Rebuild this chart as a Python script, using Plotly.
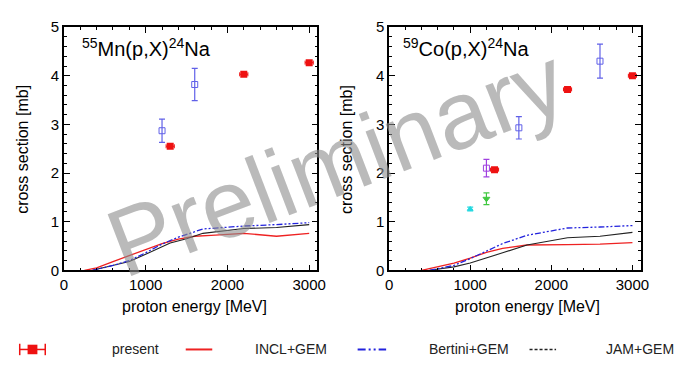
import plotly.graph_objects as go

# ---------------- data ----------------
# Mn panel
mn_present_x = [1300, 2200, 3000]
mn_present_y = [2.55, 4.03, 4.27]
mn_present_ex = [50, 50, 50]
mn_exp_x = [1200, 1600]
mn_exp_y = [2.87, 3.82]
mn_exp_err = [0.24, 0.33]

mn_incl_x = [250, 400, 600, 800, 1000, 1200, 1400, 1600, 1800, 2200, 2600, 3000]
mn_incl_y = [0.0, 0.05, 0.18, 0.30, 0.42, 0.55, 0.64, 0.70, 0.72, 0.76, 0.70, 0.76]
mn_bert_x = [350, 400, 600, 800, 1000, 1200, 1400, 1700, 2200, 2600, 3000]
mn_bert_y = [0.0, 0.02, 0.10, 0.20, 0.36, 0.54, 0.68, 0.85, 0.91, 0.94, 0.98]
mn_jam_x = [350, 400, 600, 800, 1000, 1200, 1300, 1500, 1700, 2200, 2600, 3000]
mn_jam_y = [0.0, 0.02, 0.09, 0.18, 0.33, 0.49, 0.56, 0.65, 0.76, 0.86, 0.88, 0.94]

# Co panel
co_present_x = [1300, 2200, 3000]
co_present_y = [2.07, 3.72, 4.00]
co_present_ex = [50, 50, 50]
co_exp_x = [1600, 2600]
co_exp_y = [2.93, 4.30]
co_exp_err = [0.23, 0.35]
co_purple_x = [1200]
co_purple_y = [2.10]
co_purple_err = [0.18]
co_green_x = [1200]
co_green_y = [1.47]
co_green_err = [0.12]
co_cyan_x = [1000]
co_cyan_y = [1.26]
co_cyan_err = [0.04]

co_incl_x = [400, 600, 800, 1000, 1200, 1400, 1700, 2200, 2600, 3000]
co_incl_y = [0.0, 0.07, 0.15, 0.25, 0.37, 0.45, 0.52, 0.53, 0.54, 0.57]
co_bert_x = [500, 600, 800, 1000, 1200, 1400, 1700, 2200, 2600, 3000]
co_bert_y = [0.0, 0.03, 0.10, 0.24, 0.40, 0.55, 0.72, 0.87, 0.89, 0.92]
co_jam_x = [500, 600, 800, 1000, 1200, 1400, 1700, 2200, 2600, 3000]
co_jam_y = [0.0, 0.02, 0.07, 0.15, 0.25, 0.36, 0.52, 0.67, 0.70, 0.78]

x_ticks = [0, 1000, 2000, 3000]
y_ticks = [0, 1, 2, 3, 4, 5]

legend_labels = ["present", "INCL+GEM", "Bertini+GEM", "JAM+GEM"]

RED = "#ee1111"
BLUE_EXP = "#6060e8"
INCL_C = "#ee2222"
BERT_C = "#2222dd"
JAM_C = "#222222"

W, H = 679, 367


def PX(px):
    return px / W


def PY(py):
    return 1 - py / H


fig = go.Figure()


def add_panel(xa, ya, pres_x, pres_y, pres_ex, incl, bert, jam):
    fig.add_trace(go.Scatter(x=incl[0], y=incl[1], mode="lines", xaxis=xa, yaxis=ya,
                             line=dict(color=INCL_C, width=1.3), showlegend=False))
    fig.add_trace(go.Scatter(x=jam[0], y=jam[1], mode="lines", xaxis=xa, yaxis=ya,
                             line=dict(color=JAM_C, width=1.1), showlegend=False))
    fig.add_trace(go.Scatter(x=bert[0], y=bert[1], mode="lines", xaxis=xa, yaxis=ya,
                             line=dict(color=BERT_C, width=1.3, dash="6px,2px,2px,2px,2px,2px"),
                             showlegend=False))
    fig.add_trace(go.Scatter(x=pres_x, y=pres_y, mode="markers", xaxis=xa, yaxis=ya,
                             marker=dict(symbol="square", size=7, color=RED),
                             error_x=dict(type="data", array=pres_ex, color=RED, thickness=1, width=2),
                             showlegend=False))


def add_exp(xa, ya, x, y, err, color, symbol, size=6):
    fig.add_trace(go.Scatter(x=x, y=y, mode="markers", xaxis=xa, yaxis=ya,
                             marker=dict(symbol=symbol, size=size, color=color,
                                         line=dict(color=color, width=1)),
                             error_y=dict(type="data", array=err, color=color, thickness=1.2, width=3),
                             showlegend=False))


add_panel("x", "y", mn_present_x, mn_present_y, mn_present_ex,
          (mn_incl_x, mn_incl_y), (mn_bert_x, mn_bert_y), (mn_jam_x, mn_jam_y))
add_exp("x", "y", mn_exp_x, mn_exp_y, mn_exp_err, BLUE_EXP, "square-open")

add_panel("x2", "y2", co_present_x, co_present_y, co_present_ex,
          (co_incl_x, co_incl_y), (co_bert_x, co_bert_y), (co_jam_x, co_jam_y))
add_exp("x2", "y2", co_exp_x, co_exp_y, co_exp_err, BLUE_EXP, "square-open")
add_exp("x2", "y2", co_purple_x, co_purple_y, co_purple_err, "#a040e0", "square-open")
add_exp("x2", "y2", co_green_x, co_green_y, co_green_err, "#40c840", "triangle-down", 6)
add_exp("x2", "y2", co_cyan_x, co_cyan_y, co_cyan_err, "#20d8e0", "triangle-up", 5)

FONT = "Liberation Sans, Arial, sans-serif"

axis_common = dict(showline=True, linecolor="black", linewidth=1.5, mirror="ticks",
                   ticks="inside", ticklen=6, tickwidth=1, tickcolor="black",
                   showgrid=False, zeroline=False,
                   tickfont=dict(family=FONT, size=15, color="black"))

xcommon = dict(axis_common, range=[0, 3100], tickvals=x_ticks,
               minor=dict(dtick=200, ticklen=3, ticks="inside", tickcolor="black"))
ycommon = dict(axis_common, range=[0, 5], tickvals=y_ticks,
               minor=dict(dtick=0.2, ticklen=3, ticks="inside", tickcolor="black"))

ydom = [PY(274), PY(19)]
fig.update_layout(
    width=W, height=H,
    margin=dict(l=0, r=0, t=0, b=0),
    paper_bgcolor="white", plot_bgcolor="white",
    showlegend=False,
    xaxis=dict(xcommon, domain=[PX(61), PX(319)], anchor="y"),
    yaxis=dict(ycommon, domain=ydom, anchor="x"),
    xaxis2=dict(xcommon, domain=[PX(392), PX(648)], anchor="y2"),
    yaxis2=dict(ycommon, domain=ydom, anchor="x2"),
)

ann = []
# panel labels
ann.append(dict(text="<sup>55</sup>Mn(p,X)<sup>24</sup>Na", x=PX(77), y=PY(40),
                xref="paper", yref="paper", xanchor="left", yanchor="middle", showarrow=False,
                font=dict(family=FONT, size=20, color="black")))
ann.append(dict(text="<sup>59</sup>Co(p,X)<sup>24</sup>Na", x=PX(404), y=PY(40),
                xref="paper", yref="paper", xanchor="left", yanchor="middle", showarrow=False,
                font=dict(family=FONT, size=20, color="black")))
# axis titles
for xc in (194, 533):
    ann.append(dict(text="proton energy [MeV]", x=PX(xc), y=PY(312),
                    xref="paper", yref="paper", xanchor="center", yanchor="middle",
                    showarrow=False, font=dict(family=FONT, size=16, color="black")))
for xc in (19, 348):
    ann.append(dict(text="cross section [mb]", x=PX(xc), y=PY(147), textangle=-90,
                    xref="paper", yref="paper", xanchor="center", yanchor="middle",
                    showarrow=False, font=dict(family=FONT, size=16, color="black")))

# legend (manual, bottom row)
ly = PY(357)
text_x = [108, 253, 431, 611]
for lab, tx in zip(legend_labels, text_x):
    ann.append(dict(text=lab, x=PX(tx), y=ly, xref="paper", yref="paper",
                    xanchor="left", yanchor="middle", showarrow=False,
                    font=dict(family=FONT, size=14, color="#222222")))

shapes = []
# present glyph
shapes.append(dict(type="line", xref="paper", yref="paper", x0=PX(16), x1=PX(42), y0=ly, y1=ly,
                   line=dict(color=RED, width=1.5)))
for xe in (16, 42):
    shapes.append(dict(type="line", xref="paper", yref="paper", x0=PX(xe), x1=PX(xe),
                       y0=PY(363), y1=PY(351), line=dict(color=RED, width=1.5)))
shapes.append(dict(type="rect", xref="paper", yref="paper", x0=PX(24), x1=PX(34),
                   y0=PY(362), y1=PY(352), fillcolor=RED, line=dict(color=RED, width=0)))
# INCL line
shapes.append(dict(type="line", xref="paper", yref="paper", x0=PX(185), x1=PX(212), y0=ly, y1=ly,
                   line=dict(color=INCL_C, width=2)))
# Bertini
shapes.append(dict(type="line", xref="paper", yref="paper", x0=PX(360), x1=PX(389), y0=ly, y1=ly,
                   line=dict(color=BERT_C, width=2, dash="8px,3px,2px,3px,2px,3px")))
# JAM
shapes.append(dict(type="line", xref="paper", yref="paper", x0=PX(535), x1=PX(562), y0=ly, y1=ly,
                   line=dict(color=JAM_C, width=1.5, dash="3px,2px")))

# watermark
ann.append(dict(text="Preliminary", x=PX(338), y=PY(160), xref="paper", yref="paper",
                xanchor="center", yanchor="middle", textangle=-21, showarrow=False,
                font=dict(family=FONT, size=96, color="rgba(140,140,140,0.6)")))

fig.update_layout(annotations=ann, shapes=shapes)
fig.write_html("out.html",
               config={"displayModeBar": False},
               post_script="document.body.style.margin='0px';document.body.style.overflow='hidden';")
